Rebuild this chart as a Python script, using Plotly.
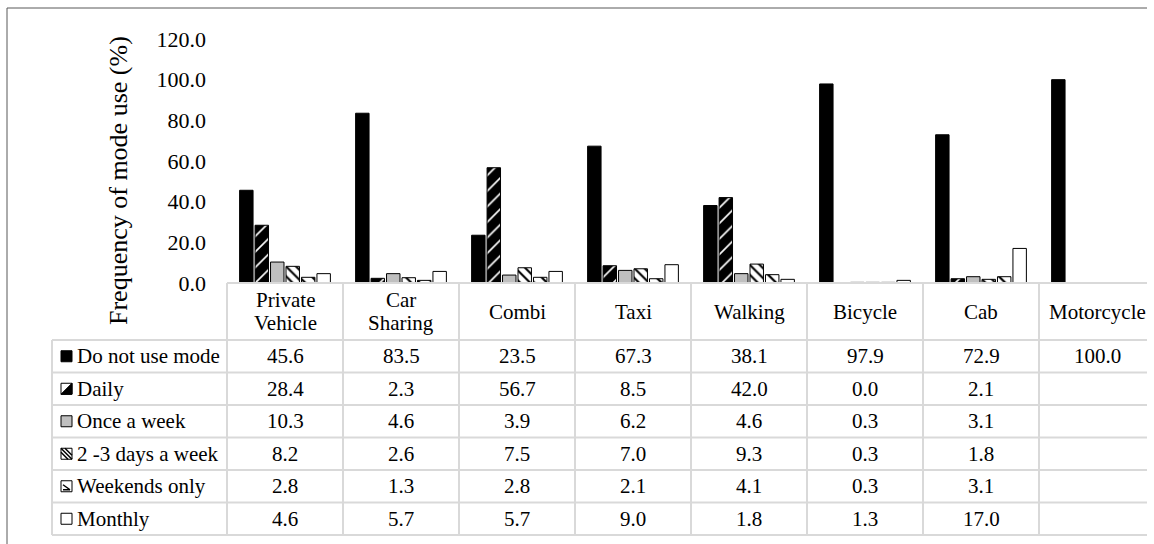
import plotly.graph_objects as go

# ---- data -------------------------------------------------------------
modes = ["Private Vehicle", "Car Sharing", "Combi", "Taxi", "Walking",
         "Bicycle", "Cab", "Motorcycle"]
mode_headers = [["Private", "Vehicle"], ["Car", "Sharing"], ["Combi"], ["Taxi"],
                ["Walking"], ["Bicycle"], ["Cab"], ["Motorcycle"]]

do_not_use = [45.6, 83.5, 23.5, 67.3, 38.1, 97.9, 72.9, 100.0]
daily = [28.4, 2.3, 56.7, 8.5, 42.0, 0.0, 2.1, None]
once_a_week = [10.3, 4.6, 3.9, 6.2, 4.6, 0.3, 3.1, None]
two_three_days = [8.2, 2.6, 7.5, 7.0, 9.3, 0.3, 1.8, None]
weekends_only = [2.8, 1.3, 2.8, 2.1, 4.1, 0.3, 3.1, None]
monthly = [4.6, 5.7, 5.7, 9.0, 1.8, 1.3, 17.0, None]

series_names = ["Do not use mode", "Daily", "Once a week",
                "2 -3 days a week", "Weekends only", "Monthly"]
series_values = [do_not_use, daily, once_a_week, two_three_days,
                 weekends_only, monthly]

y_ticks = [0, 20, 40, 60, 80, 100, 120]

# ---- page geometry (pixels) -----------------------------------------
W, H = 1154, 544
PLOT_L, PLOT_R = 227, 1147       # plot area / table body, left & right
PLOT_T, PLOT_B = 39, 283         # value axis top (120) and baseline (0)
COL_W = 116                      # one category column
LEG_L = 52                       # left edge of the table's legend column
HEAD_B = 340                     # bottom of the category header row
ROW_H = 32.5
HEAD_LINE = 23                   # line spacing inside the header cells

FONT = "Liberation Serif"
GRID = "#d9d9d9"


def px(x):
    return x / W


def py(y):
    return 1 - y / H


x_range = [-0.5, -0.5 + (PLOT_R - PLOT_L) / COL_W]


def col_left(i):
    return PLOT_L + (i - 0.5 - x_range[0]) * COL_W


# ---- bar styles ---------------------------------------------------------
styles = [
    dict(color="black"),
    dict(color="white", pattern=dict(shape="/", fgcolor="black", bgcolor="white",
                                     fgopacity=1, size=11, solidity=0.85)),
    dict(color="#bfbfbf"),
    dict(color="white", pattern=dict(shape="\\", fgcolor="black", bgcolor="white",
                                     fgopacity=1, size=7, solidity=0.3)),
    dict(color="white", pattern=dict(shape="\\", fgcolor="black", bgcolor="white",
                                     fgopacity=1, size=9, solidity=0.25)),
    dict(color="white"),
]

fig = go.Figure()
for name, vals, st in zip(series_names, series_values, styles):
    marker = dict(color=st["color"], line=dict(color="black", width=1))
    if "pattern" in st:
        marker["pattern"] = st["pattern"]
    fig.add_trace(go.Bar(x=modes, y=vals, name=name, marker=marker,
                         showlegend=False, hoverinfo="x+y+name"))

shapes = []
annotations = []

# outer chart border (top and left edges)
shapes.append(dict(type="line", xref="paper", yref="paper",
                   x0=px(7), x1=px(PLOT_R), y0=py(8), y1=py(8),
                   line=dict(color="#595959", width=1)))
shapes.append(dict(type="line", xref="paper", yref="paper",
                   x0=px(7), x1=px(7), y0=py(8), y1=py(H + 2),
                   line=dict(color="#595959", width=1)))

# ---- data table grid -----------------------------------------------------
table_bottom = HEAD_B + ROW_H * len(series_names)
shapes.append(dict(type="line", xref="paper", yref="paper",
                   x0=px(PLOT_L), x1=px(PLOT_R), y0=py(PLOT_B), y1=py(PLOT_B),
                   line=dict(color=GRID, width=2)))
for r in range(len(series_names) + 1):
    yy = HEAD_B + ROW_H * r
    shapes.append(dict(type="line", xref="paper", yref="paper",
                       x0=px(LEG_L), x1=px(PLOT_R), y0=py(yy), y1=py(yy),
                       line=dict(color=GRID, width=2)))
shapes.append(dict(type="line", xref="paper", yref="paper",
                   x0=px(LEG_L), x1=px(LEG_L), y0=py(HEAD_B), y1=py(table_bottom),
                   line=dict(color=GRID, width=2)))
for i in range(len(modes)):
    xl = col_left(i)
    shapes.append(dict(type="line", xref="paper", yref="paper",
                       x0=px(xl), x1=px(xl), y0=py(PLOT_B), y1=py(table_bottom),
                       line=dict(color=GRID, width=2)))

# category headers (one annotation per text line for tight spacing)
head_mid = (PLOT_B + HEAD_B) / 2
for m, lines in zip(modes, mode_headers):
    n = len(lines)
    for k, line in enumerate(lines):
        yc = head_mid + (k - (n - 1) / 2) * HEAD_LINE
        annotations.append(dict(x=m, xref="x", y=py(yc), yref="paper",
                                text=line, showarrow=False, xanchor="center",
                                yanchor="middle",
                                font=dict(family=FONT, size=21, color="black")))

# values
for r, vals in enumerate(series_values):
    yc = HEAD_B + ROW_H * (r + 0.5)
    for m, v in zip(modes, vals):
        if v is None:
            continue
        annotations.append(dict(x=m, xref="x", y=py(yc), yref="paper",
                                text=f"{v:.1f}", showarrow=False,
                                xanchor="center", yanchor="middle",
                                font=dict(family=FONT, size=21, color="black")))

# legend keys and series names in the first table column
KEY_L, KEY_S = 61, 11
for r, name in enumerate(series_names):
    yc = HEAD_B + ROW_H * (r + 0.5)
    k0, k1 = KEY_L, KEY_L + KEY_S
    t0, t1 = yc - KEY_S / 2, yc + KEY_S / 2
    fill = ["black", "white", "#bfbfbf", "white", "white", "white"][r]
    shapes.append(dict(type="rect", xref="paper", yref="paper",
                       x0=px(k0), x1=px(k1), y0=py(t0), y1=py(t1),
                       fillcolor=fill, line=dict(color="black", width=1)))
    if r == 1:
        # half-filled key for the wide diagonal stripes
        path = (f"M {px(k0)},{py(t1)} L {px(k1)},{py(t0)} "
                f"L {px(k1)},{py(t1)} Z")
        shapes.append(dict(type="path", xref="paper", yref="paper", path=path,
                           fillcolor="black", line=dict(color="black", width=1)))
        path2 = (f"M {px(k0)},{py(t1)} L {px(k0 + 4)},{py(t1)} "
                 f"L {px(k1)},{py(t0 + 4)} L {px(k1)},{py(t0)} Z")
        shapes.append(dict(type="path", xref="paper", yref="paper", path=path2,
                           fillcolor="black", line=dict(width=0)))
    elif r == 3:
        for d in (0, 4):
            shapes.append(dict(type="line", xref="paper", yref="paper",
                               x0=px(k0 + d), x1=px(k1), y0=py(t0), y1=py(t1 - d),
                               line=dict(color="black", width=1.5)))
        shapes.append(dict(type="line", xref="paper", yref="paper",
                           x0=px(k0), x1=px(k1 - 4), y0=py(t0 + 4), y1=py(t1),
                           line=dict(color="black", width=1.5)))
    elif r == 4:
        shapes.append(dict(type="line", xref="paper", yref="paper",
                           x0=px(k0 + 2), x1=px(k1 - 2), y0=py(t0 + 4), y1=py(t1 - 2),
                           line=dict(color="black", width=1.5)))
        shapes.append(dict(type="line", xref="paper", yref="paper",
                           x0=px(k0 + 2), x1=px(k1 - 2), y0=py(t1 - 2), y1=py(t1 - 2),
                           line=dict(color="black", width=1.5)))
    annotations.append(dict(x=px(75), xref="paper", y=py(yc), yref="paper",
                            text=name, showarrow=False, xanchor="left",
                            yanchor="middle",
                            font=dict(family=FONT, size=21, color="black")))

# value axis title
annotations.append(dict(x=px(118), xref="paper", y=py(181), yref="paper",
                        text="Frequency of mode use (%)", textangle=-90,
                        showarrow=False, xanchor="center", yanchor="middle",
                        font=dict(family=FONT, size=26, color="black")))

fig.update_layout(
    width=W, height=H, autosize=False,
    margin=dict(l=0, r=0, t=0, b=0, pad=0, autoexpand=False),
    paper_bgcolor="white", plot_bgcolor="white",
    barmode="group", bargap=0.2, bargroupgap=0.13,
    font=dict(family=FONT, color="black"),
    xaxis=dict(domain=[px(PLOT_L), px(PLOT_R)], range=x_range,
               type="category", categoryorder="array", categoryarray=modes,
               showticklabels=False, showgrid=False, zeroline=False,
               showline=False, ticks="", fixedrange=True, automargin=False),
    yaxis=dict(domain=[py(PLOT_B), py(PLOT_T)], range=[0, 120],
               tickvals=y_ticks, tickformat=".1f", showgrid=False,
               zeroline=False, showline=False, ticks="",
               ticklabelstandoff=20, automargin=False,
               tickfont=dict(family=FONT, size=22, color="black"),
               fixedrange=True),
    shapes=shapes,
    annotations=annotations,
)

fig.write_html("out.html")
